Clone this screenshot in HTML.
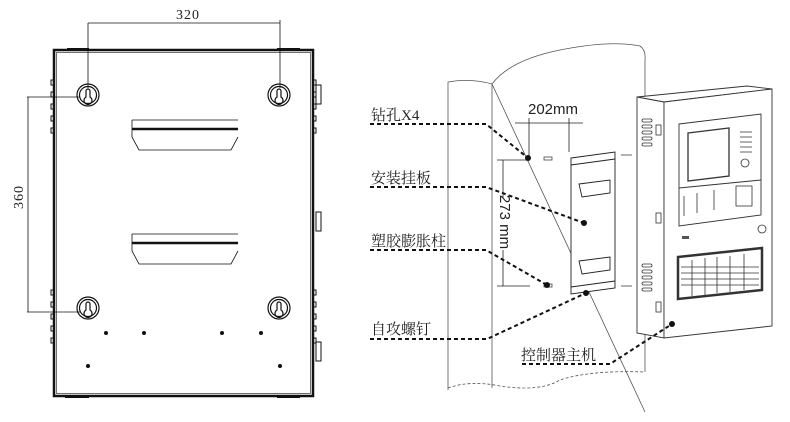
<!DOCTYPE html>
<html><head><meta charset="utf-8"><style>
html,body{margin:0;padding:0;background:#fff;width:790px;height:422px;overflow:hidden}
svg{display:block}
text{font-family:"Liberation Serif","Noto Serif CJK SC","Noto Sans CJK SC",serif;fill:#222}
</style></head><body>
<svg width="790" height="422" viewBox="0 0 790 422" xmlns="http://www.w3.org/2000/svg">
<!-- LEFT PANEL -->
<g stroke="#111" fill="none">
<rect x="54" y="50" width="259" height="346" stroke-width="2.5"/>
<rect x="56.5" y="52.5" width="254" height="341" stroke-width="0.6"/>
<line x1="67" y1="49" x2="89" y2="49" stroke-width="2"/>
<line x1="277" y1="49" x2="300" y2="49" stroke-width="2"/>
<line x1="65" y1="397" x2="89" y2="397" stroke-width="2"/>
<line x1="277" y1="397" x2="300" y2="397" stroke-width="2"/>
<g stroke-width="1">
<rect x="51" y="80" width="3" height="5"/><rect x="51" y="92" width="3" height="5"/><rect x="51" y="104" width="3" height="5"/><rect x="51" y="116" width="3" height="5"/><rect x="51" y="128" width="3" height="5"/>
<rect x="51" y="290" width="3" height="5"/><rect x="51" y="302" width="3" height="5"/><rect x="51" y="314" width="3" height="5"/><rect x="51" y="326" width="3" height="5"/><rect x="51" y="338" width="3" height="5"/>
<rect x="313" y="80" width="3" height="5"/><rect x="313" y="92" width="3" height="5"/><rect x="313" y="104" width="3" height="5"/><rect x="313" y="116" width="3" height="5"/><rect x="313" y="128" width="3" height="5"/>
<rect x="313" y="290" width="3" height="5"/><rect x="313" y="302" width="3" height="5"/><rect x="313" y="314" width="3" height="5"/><rect x="313" y="326" width="3" height="5"/><rect x="313" y="338" width="3" height="5"/>
<rect x="316" y="85" width="5" height="19"/>
<rect x="316" y="212" width="5" height="19"/>
<rect x="316" y="342" width="5" height="19"/>
</g>
<g stroke-width="1.2">
<circle cx="88" cy="95" r="11"/><circle cx="88" cy="95" r="8.5"/>
<circle cx="279" cy="95" r="11"/><circle cx="279" cy="95" r="8.5"/>
<circle cx="88" cy="308" r="11"/><circle cx="88" cy="308" r="8.5"/>
<circle cx="279" cy="308" r="11"/><circle cx="279" cy="308" r="8.5"/>
<path d="M86 97 a4 4 0 1 0 4 0 v-6 a2 2 0 0 0 -4 0 z"/>
<path d="M277 97 a4 4 0 1 0 4 0 v-6 a2 2 0 0 0 -4 0 z"/>
<path d="M86 310 a4 4 0 1 0 4 0 v-6 a2 2 0 0 0 -4 0 z"/>
<path d="M277 310 a4 4 0 1 0 4 0 v-6 a2 2 0 0 0 -4 0 z"/>
</g>
<g stroke-width="0.8">
<path d="M132 120 H238 M132 120 V137 L139 150 H231 L238 137"/>
<path d="M132 234 H238 M132 234 V251 L139 264 H231 L238 251"/>
</g>
<line x1="132" y1="129" x2="238" y2="129" stroke-width="2.5"/>
<line x1="132" y1="243" x2="238" y2="243" stroke-width="2.5"/>
<g stroke-width="0.8">
<line x1="88" y1="23" x2="280" y2="23"/>
<line x1="88" y1="23" x2="88" y2="88"/>
<line x1="280" y1="20" x2="280" y2="88"/>
<line x1="27" y1="97" x2="80" y2="97"/>
<line x1="27" y1="312" x2="80" y2="312"/>
<line x1="28" y1="97" x2="28" y2="312"/>
</g>
</g>
<g fill="#111">
<circle cx="106" cy="333" r="2"/><circle cx="144" cy="333" r="2"/><circle cx="222" cy="333" r="2"/><circle cx="261" cy="333" r="2"/>
<circle cx="88" cy="366" r="2"/><circle cx="280" cy="366" r="2"/>
</g>
<text x="188" y="19" font-size="14" text-anchor="middle" letter-spacing="1">320</text>
<text transform="translate(23,197) rotate(-90)" font-size="14" text-anchor="middle" letter-spacing="1">360</text>

<!-- RIGHT: wall -->
<g stroke="#555" fill="none" stroke-width="0.8">
<path d="M448 390 V82 Q470 78 492 84 Q510 60 560 50 Q610 40 640 46 Q646 50 645 60 V372"/>
<line x1="492" y1="84" x2="492" y2="388"/>
<line x1="492" y1="84" x2="645" y2="412"/>
<path d="M448 388 Q470 380 500 386 Q540 392 560 380 Q590 370 645 372" stroke-dasharray="3 2"/>
</g>
<g stroke="#222" stroke-width="0.8" fill="none">
<line x1="529" y1="118" x2="529" y2="158"/>
<line x1="569" y1="118" x2="569" y2="152"/>
<line x1="515" y1="123" x2="583" y2="123"/>
<line x1="497" y1="160" x2="530" y2="160"/>
<line x1="497" y1="286" x2="530" y2="286"/>
<line x1="503" y1="160" x2="503" y2="198"/>
<line x1="503" y1="250" x2="503" y2="286"/>
</g>
<text x="553" y="114" font-size="15" text-anchor="middle" style="font-family:'Liberation Sans',sans-serif">202mm</text>
<text transform="translate(500,222) rotate(90)" font-size="15" text-anchor="middle" style="font-family:'Liberation Sans',sans-serif">273 mm</text>
<g stroke="#444" fill="none" stroke-width="0.8">
<rect x="544" y="157" width="8" height="3"/>
<rect x="544" y="284" width="8" height="3"/>
<line x1="621" y1="155" x2="632" y2="155"/>
<line x1="621" y1="286" x2="632" y2="286"/>
</g>
<g stroke="#222" fill="#fff" stroke-width="0.9">
<path d="M571 158 L615 152 V288 L571 294 Z"/>
<path d="M571 165 L615 159"/>
<path d="M571 287 L615 281"/>
<path d="M579 184 L610 180 V193 L582 197 Z" fill="none"/>
<path d="M579 261 L610 257 V270 L582 274 Z" fill="none"/>
</g>
<!-- controller -->
<g stroke="#333" fill="#fff" stroke-width="0.9">
<path d="M637 97 L747 86 L772 89 L664 102 Z"/>
<path d="M637 97 L664 102 V338 L637 333 Z"/>
<path d="M664 102 L772 89 V326 L664 338 Z"/>
<path d="M679 124 L761 114 V215 L679 226 Z"/>
<path d="M688 133 L729 128 V176 L688 181 Z" stroke-width="1.3"/>
<path d="M679 188 L761 180" fill="none"/>
<path d="M678 257 L762 248 V290 L678 299 Z" stroke-width="2.5"/>
</g>
<g stroke="#333" fill="none" stroke-width="0.8">
<rect x="642" y="119" width="10" height="3" rx="1.5"/><rect x="642" y="125" width="10" height="3" rx="1.5"/><rect x="642" y="131" width="10" height="3" rx="1.5"/><rect x="642" y="137" width="10" height="3" rx="1.5"/><rect x="642" y="143" width="10" height="3" rx="1.5"/>
<rect x="642" y="264" width="10" height="3" rx="1.5"/><rect x="642" y="270" width="10" height="3" rx="1.5"/><rect x="642" y="276" width="10" height="3" rx="1.5"/><rect x="642" y="282" width="10" height="3" rx="1.5"/><rect x="642" y="288" width="10" height="3" rx="1.5"/>
<rect x="656" y="125" width="5" height="10"/>
<rect x="656" y="213" width="5" height="10"/>
<rect x="656" y="302" width="5" height="10"/>
<rect x="736" y="186" width="16" height="20"/>
<circle cx="745" cy="163" r="4"/>
<circle cx="762" cy="229" r="4"/>
<path d="M692 260 V296 M705 258 V295 M717 257 V293 M730 256 V292 M744 254 V290"/>
<path d="M740 132 h12 M740 137 h12 M740 142 h12 M740 147 h12 M740 152 h12"/>
<path d="M684 196 v20 M697 193 v20 M714 190 v20"/>
<path d="M681 267 h78 M681 273 h78 M681 279 h78 M681 285 h78"/>
</g>
<rect x="682" y="236" width="7" height="3" fill="#555"/>
<g stroke="#111" stroke-width="2" stroke-dasharray="4 3" fill="none">
<path d="M370 124 H486 L528 158"/>
<path d="M370 187 H486 L584 223"/>
<path d="M370 250 H486 L547 285"/>
<path d="M370 339 H487 L586 293"/>
<path d="M522 364 H610 L672 324"/>
</g>
<g fill="#111">
<circle cx="528" cy="158" r="3"/><circle cx="584" cy="223" r="3"/><circle cx="547" cy="285" r="3"/><circle cx="586" cy="293" r="3"/><circle cx="672" cy="324" r="3"/>
</g>
<text x="371" y="120" font-size="15">钻孔X4</text>
<text x="371" y="183" font-size="15">安装挂板</text>
<text x="371" y="246" font-size="15">塑胶膨胀柱</text>
<text x="371" y="334" font-size="15">自攻螺钉</text>
<text x="521" y="360" font-size="15">控制器主机</text>
</svg>
</body></html>
